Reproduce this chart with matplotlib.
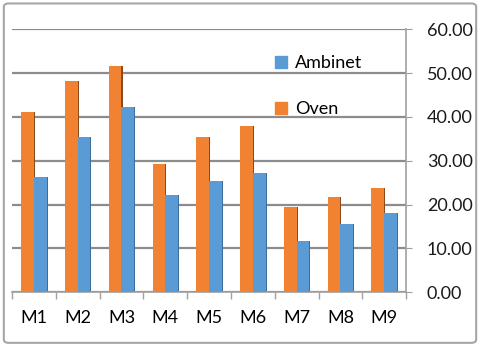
import numpy as np
import matplotlib
matplotlib.use("Agg")
import matplotlib.pyplot as plt
from matplotlib.patches import FancyBboxPatch, Patch

plt.rcParams['font.family'] = ['Lato', 'DejaVu Sans']

# data
months = ['M1', 'M2', 'M3', 'M4', 'M5', 'M6', 'M7', 'M8', 'M9']
oven = [41.2, 48.3, 51.6, 29.2, 35.5, 37.9, 19.5, 21.7, 23.9]
ambinet = [26.2, 35.5, 42.3, 22.1, 25.5, 27.2, 11.8, 15.6, 18.0]

oven_col = '#F08232'
amb_col = '#5B9BD5'
grid_col = '#8C8C8C'

fig = plt.figure(figsize=(4.8, 3.47), dpi=100)
ax = fig.add_axes([0.025, 0.1576, 0.821, 0.758])

x = np.arange(len(months))
w = 0.29

# dark edge on the right of each bar (fake 3d look)
ax.bar(x - w / 2 + 0.025, oven, w, color='#8A4A1C', zorder=2)
ax.bar(x + w / 2 + 0.025, ambinet, w, color='#3B6E9C', zorder=2)
ax.bar(x - w / 2, oven, w, color=oven_col, zorder=3)
ax.bar(x + w / 2, ambinet, w, color=amb_col, zorder=3)

ax.set_xlim(-0.5, len(months) - 0.5)
ax.set_ylim(0, 60)
ax.set_yticks(np.arange(0, 61, 10))
ax.set_yticklabels(['%.2f' % v for v in np.arange(0, 61, 10)], fontsize=13)
ax.yaxis.tick_right()
ax.yaxis.grid(True, color=grid_col, linewidth=1.6, zorder=0)
ax.set_axisbelow(True)

ax.set_xticks(x)
ax.set_xticklabels(months, fontsize=13)
ax.tick_params(axis='x', length=0, pad=13)
ax.set_xticks(np.arange(-0.5, len(months)), minor=True)
ax.tick_params(axis='x', which='minor', length=5, color='#A0A0A0', width=1)
ax.tick_params(axis='y', length=4, color='#A0A0A0', pad=11, colors='#1a1a1a')

for s in ['top', 'left']:
    ax.spines[s].set_visible(False)
ax.spines['right'].set_color('#A0A0A0')
ax.spines['bottom'].set_color('#A0A0A0')
ax.spines['right'].set_linewidth(1.2)
ax.spines['bottom'].set_linewidth(1.2)

handles = [Patch(color=amb_col), Patch(color=oven_col)]
fig.legend(handles, ['Ambinet', 'Oven'], loc='upper left',
           bbox_to_anchor=(0.54, 0.888), frameon=False, fontsize=13,
           handlelength=0.65, handleheight=0.65, handletextpad=0.45,
           labelspacing=1.65)

border = FancyBboxPatch((0.008, 0.012), 0.984, 0.978, boxstyle='round,pad=0,rounding_size=0.01',
                        transform=fig.transFigure, fill=False, edgecolor='#A6A6A6', linewidth=1.5)
fig.patches.append(border)

fig.savefig('out.png', dpi=100)
